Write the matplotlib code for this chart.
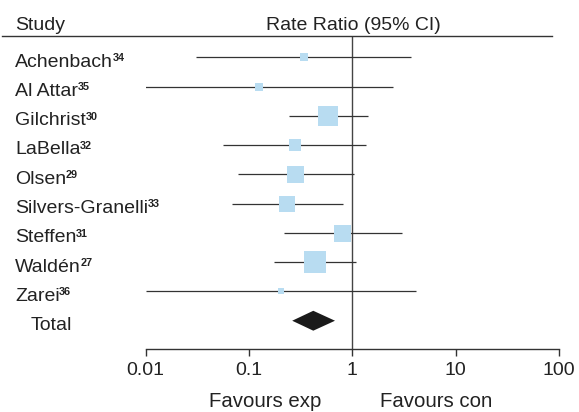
import matplotlib
matplotlib.use("Agg")
import matplotlib.pyplot as plt
from matplotlib.lines import Line2D
import matplotlib.transforms as mtransforms

plt.rcParams['font.family'] = ['Liberation Sans', 'DejaVu Sans']

studies = ["Achenbach", "Al Attar", "Gilchrist", "LaBella", "Olsen",
           "Silvers-Granelli", "Steffen", "Waldén", "Zarei"]
refs = ["34", "35", "30", "32", "29", "33", "31", "27", "36"]
rr = [0.339, 0.126, 0.578, 0.279, 0.281, 0.235, 0.80, 0.435, 0.202]
ci_lo = [0.031, 0.009, 0.246, 0.056, 0.078, 0.069, 0.216, 0.175, 0.010]
ci_hi = [3.74, 2.46, 1.41, 1.35, 1.03, 0.82, 3.0, 1.09, 4.16]
weight = [7.4, 8.0, 20.6, 12.5, 17.0, 16.5, 17.0, 23.0, 6.0]  # square side (px)
total_rr, total_lo, total_hi = 0.419, 0.262, 0.68
xticks = [0.01, 0.1, 1, 10, 100]
xticklabels = ["0.01", "0.1", "1", "10", "100"]

W, H = 579, 412
TXT = '#222222'
fig = plt.figure(figsize=(W / 100, H / 100), dpi=100)
x0, x1 = 145.7, 558.9
ytop, ybot = 35.7, 349.3
ax = fig.add_axes([x0 / W, 1 - ybot / H, (x1 - x0) / W, (ybot - ytop) / H])
ax.set_xscale('log')
ax.set_xlim(0.01, 100)
row0, rowstep = 57.3, 29.27
ax.set_ylim((ybot - row0) / rowstep, (ytop - row0) / rowstep)

for s in ['top', 'left', 'right']:
    ax.spines[s].set_visible(False)
ax.spines['bottom'].set_color('#333333')
ax.spines['bottom'].set_linewidth(1.0)
ax.set_yticks([])
ax.set_xticks(xticks)
ax.set_xticklabels(xticklabels)
ax.minorticks_off()
ax.tick_params(axis='x', length=5, width=1.0, color='#333333', pad=4,
               labelsize=14, labelcolor=TXT)

ax.axvline(1, color='#444444', lw=1.0, zorder=1)

col = '#b8dcf1'
for i in range(len(studies)):
    ax.plot([ci_lo[i], ci_hi[i]], [i, i], color='#333333', lw=0.9, zorder=2,
            solid_capstyle='butt')
    ax.plot([rr[i]], [i], marker='s', ms=weight[i] * 0.72, color=col,
            mec=col, mew=0, linestyle='none', zorder=3)

ti = len(studies)
ax.fill([total_lo, total_rr, total_hi, total_rr],
        [ti, ti - 0.34, ti, ti + 0.34], color='#1a1a1a', zorder=3, lw=0)

trans = mtransforms.blended_transform_factory(fig.transFigure, ax.transData)
fig.canvas.draw()
renderer = fig.canvas.get_renderer()
for i, (s, r) in enumerate(zip(studies, refs)):
    t = ax.text(15 / W, i + 0.32, s, transform=trans,
                fontsize=14, color=TXT, va='baseline', ha='left')
    ext = t.get_window_extent(renderer=renderer)
    bx, by = trans.transform((15 / W, i + 0.32))
    fig.text((ext.x1 - 0.5) / W, (by + 5.7) / H, r, fontsize=7.8,
             fontweight='bold', color=TXT, va='baseline', ha='left')
ax.text(31 / W, ti + 0.32, "Total", transform=trans, fontsize=14,
        color=TXT, va='baseline', ha='left')

fig.text(15 / W, 1 - 29.5 / H, "Study", fontsize=14, color=TXT,
         va='baseline', ha='left')
fig.text(353 / W, 1 - 29.5 / H, "Rate Ratio (95% CI)", fontsize=14,
         color=TXT, va='baseline', ha='center')
fig.add_artist(Line2D([2 / W, 552 / W], [1 - ytop / H, 1 - ytop / H],
                      transform=fig.transFigure, color='#333333', lw=1.0))

fig.text(265.6 / W, 1 - 407 / H, "Favours exp", fontsize=14.7, color=TXT,
         va='baseline', ha='center')
fig.text(436.5 / W, 1 - 407 / H, "Favours con", fontsize=14.7, color=TXT,
         va='baseline', ha='center')

fig.savefig("out.png", dpi=100)
